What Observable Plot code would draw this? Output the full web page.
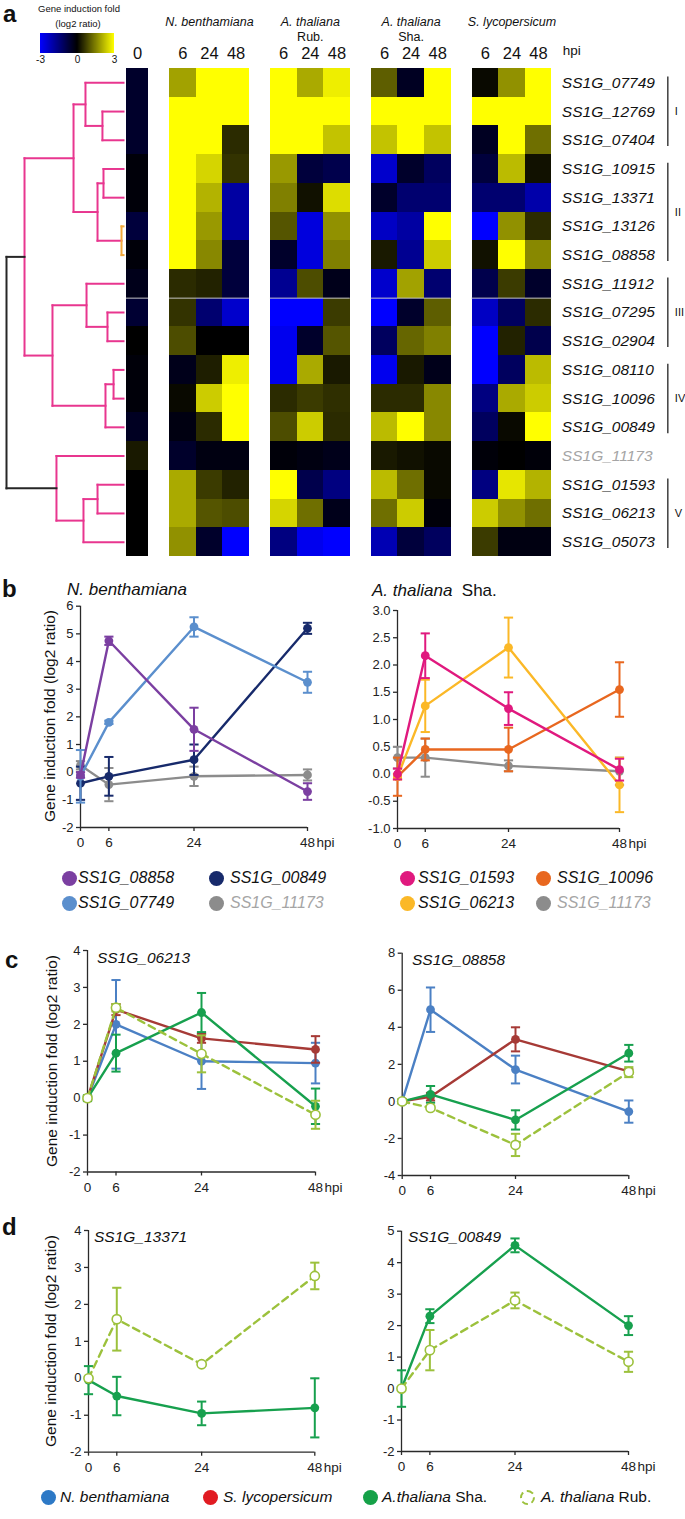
<!DOCTYPE html>
<html><head><meta charset="utf-8">
<script src="https://cdn.jsdelivr.net/npm/d3@7"></script>
<script src="https://cdn.jsdelivr.net/npm/@observablehq/plot@0.6"></script>
<style>
html,body{margin:0;padding:0;background:#fff;}
#page{position:relative;width:685px;height:1519px;overflow:hidden;font-family:"Liberation Sans",Arial,sans-serif;color:#111;}
.abs{position:absolute;}
.lbl{position:absolute;white-space:nowrap;line-height:1;}
</style></head><body><div id="page"></div>
<script>
// ===================== DATA =====================
// Panel a: heatmap
const heatGenes = ["SS1G_07749","SS1G_12769","SS1G_07404","SS1G_10915","SS1G_13371","SS1G_13126","SS1G_08858","SS1G_11912","SS1G_07295","SS1G_02904","SS1G_08110","SS1G_10096","SS1G_00849","SS1G_11173","SS1G_01593","SS1G_06213","SS1G_05073"];
const heatGroupNames = ["", "N. benthamiana", "A. thaliana", "A. thaliana", "S. lycopersicum"];
const heatGroupSub = ["", "", "Rub.", "Sha.", ""];
const heatGroupTimes = [[0], [6, 24, 48], [6, 24, 48], [6, 24, 48], [6, 24, 48]];
const heat0 = [-0.5,-0.5,-0.5,-0.1,-0.1,-0.7,-0.1,-0.3,-0.6,0,-0.1,-0.1,-0.4,0.3,0,0,0];
const heatNb = [[1.9,3,3],[3,3,3],[3,3,0.5],[3,2.5,0.6],[3,2.1,-1.9],[3,1.8,-1.9],[3,1.6,-0.7],[0.5,0.4,-0.7],[0.6,-1.3,-2.4],[0.9,0,0],[-0.3,0.35,2.8],[0.1,2.4,3],[-0.2,0.5,3],[-0.5,-0.2,-0.2],[2.0,0.7,0.4],[2.0,1.0,0.9],[1.7,-0.5,-3]];
const heatRub = [[3,2.0,2.8],[3,3,3],[3,3,2.3],[1.8,-0.7,-0.9],[1.5,0.2,2.6],[1.0,-2.6,1.7],[-0.5,-2.6,1.5],[-1.7,0.9,-0.3],[-3,-3,0.7],[-2.8,-0.5,1.0],[-2.8,2.0,0.3],[0.5,0.7,0.55],[0.9,2.4,0.5],[-0.1,-0.2,-0.3],[3,-0.9,-1.5],[2.5,1.3,-0.3],[-1.5,-2.8,-3]];
const heatSha = [[1.1,-0.4,3],[3,3,3],[2.3,3,2.3],[-2.4,-0.5,-1.1],[-0.5,-1.3,-1.3],[-2.3,-1.9,3],[0.3,-1.7,2.4],[-2.4,1.9,-1.3],[-3,-0.5,1.1],[-1.1,1.2,1.5],[-2.8,0.3,-0.3],[0.5,0.5,1.6],[2.2,3,1.6],[0.3,0.2,0.1],[2.2,1.3,0.1],[1.3,2.4,-0.1],[-2.1,-0.7,-1.1]];
const heatSl = [[0.1,1.7,3],[3,3,3],[-0.4,3,1.3],[-0.7,2.2,0.2],[-1.3,-1.3,-2.0],[-3,1.7,0.5],[0.2,3,1.6],[-0.9,0.7,-0.5],[-2.3,-1.1,0.5],[-3,0.4,-0.9],[-3,-1.1,2.2],[-1.5,2.0,2.4],[-1.1,0.1,3],[-0.1,0,-0.1],[-1.5,2.7,2.1],[2.4,1.7,1.3],[0.7,-0.2,-0.2]];
const colorTicks = [-3, 0, 3];
const clusterNames = ["I", "II", "III", "IV", "V"];
const clusterFirst = [0, 3, 7, 10, 14];
const clusterLast = [2, 6, 9, 12, 16];
// dendrogram merges: [node, child A, child B, height]
const dendroMerges = [
  ["n23", "SS1G_12769", "SS1G_07404", 0.18],
  ["nA", "SS1G_07749", "n23", 0.325],
  ["n45", "SS1G_10915", "SS1G_13371", 0.171],
  ["n67", "SS1G_13126", "SS1G_08858", 0.017],
  ["n4567", "n45", "n67", 0.222],
  ["nB", "nA", "n4567", 0.427],
  ["n910", "SS1G_07295", "SS1G_02904", 0.137],
  ["n8", "SS1G_11912", "n910", 0.316],
  ["n1112", "SS1G_08110", "SS1G_10096", 0.085],
  ["n13", "n1112", "SS1G_00849", 0.154],
  ["nD", "n8", "n13", 0.607],
  ["nC", "nB", "nD", 0.846],
  ["n1516", "SS1G_01593", "SS1G_06213", 0.222],
  ["n17", "n1516", "SS1G_05073", 0.342],
  ["nE", "SS1G_11173", "n17", 0.573],
  ["root", "nC", "nE", 1.0]
];

// Panels b-d
const hpi = [0, 6, 24, 48];
const bNbGenes = ["SS1G_11173", "SS1G_00849", "SS1G_07749", "SS1G_08858"];
const bNbMean = [[0.25,-0.45,-0.15,-0.1],[-0.4,-0.15,0.45,5.2],[-0.15,1.8,5.25,3.25],[-0.1,4.75,1.55,-0.7]];
const bNbErr  = [[0.15,0.6,0.35,0.2],[0.6,0.7,0.55,0.2],[0.95,0.06,0.35,0.38],[0.1,0.15,0.78,0.3]];
const bShaGenes = ["SS1G_11173", "SS1G_10096", "SS1G_06213", "SS1G_01593"];
const bShaMean = [[0.3,0.3,0.15,0.05],[-0.05,0.45,0.45,1.55],[-0.05,1.25,2.32,-0.2],[0,2.17,1.2,0.08]];
const bShaErr  = [[0.2,0.35,0.1,0.25],[0.35,0.2,0.4,0.5],[0.05,0.48,0.55,0.5],[0.1,0.41,0.3,0.2]];
const bNbLegend = ["SS1G_08858", "SS1G_00849", "SS1G_07749", "SS1G_11173"];
const bShaLegend = ["SS1G_01593", "SS1G_10096", "SS1G_06213", "SS1G_11173"];

const hosts = ["N. benthamiana", "S. lycopersicum", "A. thaliana Sha.", "A. thaliana Rub."];
const c06213Mean = [[0,2.0,1.0,0.95],[0,2.4,1.62,1.32],[0,1.22,2.32,-0.22],[0,2.45,1.2,-0.45]];
const c06213Err  = [[0.05,1.2,0.75,0.55],[0.05,0.15,0.12,0.36],[0.08,0.5,0.53,0.48],[0.05,0.1,0.5,0.38]];
const c08858Mean = [[0,4.95,1.72,-0.55],[0,0.25,3.35,1.62],[0,0.38,-1.0,2.6],[0,-0.35,-2.35,1.58]];
const c08858Err  = [[0.1,1.2,0.75,0.6],[0.1,0.2,0.65,0.12],[0.1,0.45,0.52,0.45],[0.1,0.12,0.6,0.27]];
const dHosts = ["A. thaliana Sha.", "A. thaliana Rub."];
const d13371Mean = [[-0.05,-0.48,-0.95,-0.8],[0,1.6,0.38,2.77]];
const d13371Err  = [[0.38,0.52,0.32,0.8],[0.05,0.85,0.05,0.36]];
const d00849Mean = [[0,2.3,4.55,2.0],[0,1.22,2.8,0.85]];
const d00849Err  = [[0.58,0.22,0.22,0.3],[0.05,0.64,0.25,0.32]];

// ===================== STYLE =====================
const FONT = '"Liberation Sans", Arial, sans-serif';
const AX = "#2a2a2a";
const geneColor = {
  "SS1G_08858": "#7b3fa1", "SS1G_07749": "#5b8fcd", "SS1G_00849": "#172a6b", "SS1G_11173": "#8c8c8c",
  "SS1G_01593": "#e0197e", "SS1G_06213": "#fbb827", "SS1G_10096": "#e8671f"
};
const hostColor = {"N. benthamiana": "#4b80c4", "S. lycopersicum": "#a63a36", "A. thaliana Sha.": "#17a04e", "A. thaliana Rub.": "#9cc13c"};
const hostLegendColor = {"N. benthamiana": "#2d79c6", "S. lycopersicum": "#e11b22", "A. thaliana Sha.": "#15a148", "A. thaliana Rub.": "#9cc13c"};

const page = document.getElementById("page");
function put(node, left, top) {
  const d = document.createElement("div"); d.className = "abs";
  d.style.left = left + "px"; d.style.top = top + "px";
  d.appendChild(node); page.appendChild(d); return d;
}
function label(html, x, cy, style = {}, anchor = "start") {
  const d = document.createElement("div"); d.className = "lbl";
  d.style.left = x + "px"; d.style.top = cy + "px";
  d.style.transform = anchor === "middle" ? "translate(-50%,-50%)" : "translateY(-50%)";
  d.innerHTML = html; Object.assign(d.style, style); page.appendChild(d); return d;
}
function yTitle(text, cx, cy) {
  const d = document.createElement("div"); d.className = "lbl"; d.textContent = text;
  Object.assign(d.style, {left: cx + "px", top: cy + "px", transform: "translate(-50%,-50%) rotate(-90deg)", fontSize: "15.5px"});
  page.appendChild(d);
}
function dotItem(cx, cy, color, html, tx, opts = {}) {
  const r = opts.r || 7.5;
  const c = document.createElement("div"); c.className = "abs";
  Object.assign(c.style, {left: (cx - r) + "px", top: (cy - r) + "px", width: 2 * r + "px", height: 2 * r + "px", borderRadius: "50%", boxSizing: "border-box"});
  if (opts.dashed) c.style.border = `2px dashed ${color}`; else c.style.background = color;
  page.appendChild(c);
  label(html, tx, cy, {fontSize: (opts.fs || 16) + "px", color: opts.textColor || "#111"});
}
const plotStyle = {fontFamily: FONT, background: "transparent", overflow: "visible", color: AX};

// ===================== PANEL A =====================
const UNIT_PX = 26.6, HEAT_LEFT = 126;
const colUnit = [0.83, 1, 1, 1, 1];
const GAP = 0.79;
const groupStart = []; let acc = 0;
heatGroupTimes.forEach((t, g) => { groupStart.push(acc); acc += t.length * colUnit[g] + GAP; });
const xEnd = acc - GAP;
const groupEnd = g => groupStart[g] + heatGroupTimes[g].length * colUnit[g];
const groupCenter = g => (groupStart[g] + groupEnd(g)) / 2;
const heatMatrices = [heat0.map(v => [v]), heatNb, heatRub, heatSha, heatSl];
const cells = [];
heatGenes.forEach((gene, i) => heatGroupTimes.forEach((times, g) => times.forEach((t, j) => {
  cells.push({gene, i, x1: groupStart[g] + j * colUnit[g], x2: groupStart[g] + (j + 1) * colUnit[g], v: heatMatrices[g][i][j]});
})));
const tickPos = [], tickText = new Map();
heatGroupTimes.forEach((times, g) => times.forEach((t, j) => {
  const c = groupStart[g] + (j + 0.5) * colUnit[g]; tickPos.push(c); tickText.set(c, String(t));
}));
const clusters = clusterNames.map((name, k) => ({name, first: clusterFirst[k], last: clusterLast[k]}));
const geneRows = heatGenes.map((gene, i) => ({gene, i}));
const groupIdx = heatGroupTimes.map((_, g) => g);
const colorScale = {type: "linear", domain: [-3, 0, 3], range: ["#0000ff", "#000000", "#ffff00"], interpolate: "rgb", clamp: true};

const heat = Plot.plot({
  width: 685, height: 560,
  marginLeft: HEAT_LEFT, marginRight: 685 - HEAT_LEFT - xEnd * UNIT_PX, marginTop: 68, marginBottom: 4,
  x: {domain: [0, xEnd]},
  y: {domain: [0, 17], reverse: true, axis: null},
  color: colorScale,
  style: plotStyle,
  marks: [
    Plot.rect(cells, {x1: "x1", x2: "x2", y1: "i", y2: d => d.i + 1, fill: "v", shapeRendering: "crispEdges"}),
    Plot.ruleY(groupIdx, {y: 8, x1: g => groupStart[g], x2: g => groupEnd(g), stroke: "#c4c4c4", strokeWidth: 1}),
    Plot.axisX({anchor: "top", ticks: tickPos, tickFormat: d => tickText.get(d), tickSize: 0, tickPadding: 10, fontSize: 16.5, fill: "#111", label: null}),
    Plot.text(["hpi"], {x: xEnd, frameAnchor: "top", dx: 11, dy: -14, lineAnchor: "bottom", textAnchor: "start", fontSize: 13.5, fill: "#111"}),
    Plot.text([1, 2, 3, 4], {x: g => groupCenter(g), text: g => heatGroupNames[g], frameAnchor: "top", dy: -51, fontStyle: "italic", fontSize: 12.5, fill: "#111"}),
    Plot.text([2, 3], {x: g => groupCenter(g), text: g => heatGroupSub[g], frameAnchor: "top", dy: -36, fontSize: 12.5, fill: "#111"}),
    Plot.text(geneRows.filter(d => d.gene !== "SS1G_11173"), {x: xEnd, y: d => d.i + 0.5, text: "gene", dx: 10, textAnchor: "start", fontStyle: "italic", fontSize: 15.5, fill: "#111"}),
    Plot.text(geneRows.filter(d => d.gene === "SS1G_11173"), {x: xEnd, y: d => d.i + 0.5, text: "gene", dx: 10, textAnchor: "start", fontStyle: "italic", fontSize: 15.5, fill: "#a5a5a5"}),
    Plot.ruleX(clusters, {x: xEnd, dx: 116, y1: d => d.first + 0.3, y2: d => d.last + 0.72, stroke: "#222", strokeWidth: 1.3}),
    Plot.text(clusters, {x: xEnd, dx: 123, y: d => (d.first + d.last + 1) / 2, text: "name", textAnchor: "start", fontSize: 11, fill: "#111"})
  ]
});

// dendrogram
const nodeY = new Map(), nodeH = new Map();
heatGenes.forEach((g, i) => { nodeY.set(g, i + 0.5); nodeH.set(g, 0); });
const segs = [];
dendroMerges.forEach(([id, a, b, h]) => {
  const ya = nodeY.get(a), yb = nodeY.get(b);
  nodeY.set(id, (ya + yb) / 2); nodeH.set(id, h);
  const kind = id === "root" ? "root" : id === "n67" ? "tight" : "main";
  segs.push({x1: h, y1: ya, x2: h, y2: yb, kind});
  segs.push({x1: h, y1: ya, x2: nodeH.get(a), y2: ya, kind});
  segs.push({x1: h, y1: yb, x2: nodeH.get(b), y2: yb, kind});
});
const dendroColor = {main: "#e8368f", tight: "#f2a93b", root: "#262626"};
const dendro = Plot.plot({
  width: 130, height: 560, marginLeft: 6, marginRight: 7, marginTop: 68, marginBottom: 4,
  x: {domain: [0, 1], reverse: true, axis: null},
  y: {domain: [0, 17], reverse: true, axis: null},
  style: plotStyle,
  marks: ["main", "tight", "root"].map(k => Plot.link(segs.filter(s => s.kind === k), {x1: "x1", y1: "y1", x2: "x2", y2: "y2", stroke: dendroColor[k], strokeWidth: 2, strokeLinecap: "square"}))
});
put(dendro, 0, 0);
put(heat, 0, 0);

const legendBar = Plot.legend({
  color: colorScale, width: 86, height: 34, marginTop: 0, marginBottom: 14, marginLeft: 6, marginRight: 6,
  tickSize: 0, ticks: colorTicks, tickFormat: d => String(d), label: null,
  style: {fontFamily: FONT, fontSize: "10px", background: "transparent", color: "#111"}
});
legendBar.querySelectorAll(".tick line").forEach(l => l.remove());
put(legendBar, 34, 33);
label("Gene induction fold", 79, 9, {fontSize: "9.5px"}, "middle");
label("(log2 ratio)", 78, 24, {fontSize: "9.5px"}, "middle");

// ===================== LINE CHARTS =====================
const capSymbol = {draw(ctx, size) { const r = Math.sqrt(size / Math.PI); ctx.moveTo(-r, 0); ctx.lineTo(r, 0); }};
function lineChart(cfg) {
  const {left, top, width, height, mL, mR, mT, mB, yDomain, yTicks, yFormat, series} = cfg;
  const marks = [
    Plot.ruleX([0], {stroke: AX, strokeWidth: 1.3}),
    Plot.ruleY([yDomain[0]], {stroke: AX, strokeWidth: 1.3}),
    Plot.axisX({ticks: hpi, tickFormat: d => String(d), tickSize: 4, tickPadding: 6, fontSize: 13.5, stroke: AX, strokeWidth: 1.3, fill: "#222", label: null}),
    Plot.text(["hpi"], {x: 48, frameAnchor: "bottom", dx: 9, dy: 10, textAnchor: "start", lineAnchor: "top", fontSize: 13.5, fill: "#222"}),
    Plot.axisY({ticks: yTicks, tickFormat: yFormat, tickSize: 4, tickPadding: 3, fontSize: 13, label: null, stroke: AX, strokeWidth: 1.3, fill: "#222"})
  ];
  for (const s of series) {
    const pts = hpi.map((x, k) => ({x, y: s.mean[k], e: s.err[k]}));
    marks.push(Plot.ruleX(pts, {x: "x", y1: d => d.y - d.e, y2: d => d.y + d.e, stroke: s.color, strokeWidth: 2}));
    marks.push(Plot.dot(pts, {x: "x", y: d => d.y + d.e, symbol: capSymbol, r: 4.6, fill: "none", stroke: s.color, strokeWidth: 2}));
    marks.push(Plot.dot(pts, {x: "x", y: d => d.y - d.e, symbol: capSymbol, r: 4.6, fill: "none", stroke: s.color, strokeWidth: 2}));
    marks.push(Plot.line(pts, {x: "x", y: "y", stroke: s.color, strokeWidth: 2.4, strokeDasharray: s.dashed ? "7,5" : null}));
    if (s.open) marks.push(Plot.dot(pts, {x: "x", y: "y", r: 4.6, fill: "white", stroke: s.color, strokeWidth: 1.6}));
    else marks.push(Plot.dot(pts, {x: "x", y: "y", r: 4.4, fill: s.color, stroke: "none"}));
  }
  const p = Plot.plot({
    width, height, marginLeft: mL, marginRight: mR, marginTop: mT, marginBottom: mB,
    x: {domain: [0, 48]}, y: {domain: yDomain},
    style: plotStyle, marks
  });
  put(p, left, top);
}
const intFmt = d => String(d);
const geneSeries = (genes, mean, err) => genes.map((g, k) => ({color: geneColor[g], mean: mean[k], err: err[k]}));
const hostSeries = (hs, mean, err) => hs.map((h, k) => ({color: hostColor[h], mean: mean[k], err: err[k], dashed: h === "A. thaliana Rub.", open: h === "A. thaliana Rub."}));

// Panel b
lineChart({left: 0, top: 570, width: 345, height: 290, mL: 80, mR: 38, mT: 35.7, mB: 33,
  yDomain: [-2, 6], yTicks: [-2, -1, 0, 1, 2, 3, 4, 5, 6], yFormat: intFmt, series: geneSeries(bNbGenes, bNbMean, bNbErr)});
lineChart({left: 345, top: 570, width: 340, height: 290, mL: 52, mR: 66, mT: 40, mB: 32,
  yDomain: [-1, 3], yTicks: [-1, -0.5, 0, 0.5, 1, 1.5, 2, 2.5, 3], yFormat: d => d.toFixed(1), series: geneSeries(bShaGenes, bShaMean, bShaErr)});
// Panel c
lineChart({left: 0, top: 920, width: 345, height: 290, mL: 87, mR: 30, mT: 30, mB: 38.5,
  yDomain: [-2, 4], yTicks: [-2, -1, 0, 1, 2, 3, 4], yFormat: intFmt, series: hostSeries(hosts, c06213Mean, c06213Err)});
lineChart({left: 345, top: 920, width: 340, height: 290, mL: 56.7, mR: 56.7, mT: 32.7, mB: 35,
  yDomain: [-4, 8], yTicks: [-4, -2, 0, 2, 4, 6, 8], yFormat: intFmt, series: hostSeries(hosts, c08858Mean, c08858Err)});
// Panel d
lineChart({left: 0, top: 1200, width: 345, height: 290, mL: 88, mR: 30.7, mT: 30, mB: 38.3,
  yDomain: [-2, 4], yTicks: [-2, -1, 0, 1, 2, 3, 4], yFormat: intFmt, series: hostSeries(dHosts, d13371Mean, d13371Err)});
lineChart({left: 345, top: 1200, width: 340, height: 290, mL: 56, mR: 57, mT: 30.7, mB: 39,
  yDomain: [-2, 5], yTicks: [-2, -1, 0, 1, 2, 3, 4, 5], yFormat: intFmt, series: hostSeries(dHosts, d00849Mean, d00849Err)});

// titles / axis labels
const yLab = "Gene induction fold (log2 ratio)";
yTitle(yLab, 50, 716); yTitle(yLab, 52, 1061); yTitle(yLab, 51, 1341);
label("<i>N. benthamiana</i>", 67, 589, {fontSize: "17px"});
label("<i>A. thaliana</i>&nbsp; Sha.", 372, 590, {fontSize: "17px"});
label("<i>SS1G_06213</i>", 97, 958, {fontSize: "15.5px"});
label("<i>SS1G_08858</i>", 412, 960, {fontSize: "15.5px"});
label("<i>SS1G_13371</i>", 94, 1237, {fontSize: "15.5px"});
label("<i>SS1G_00849</i>", 408, 1237, {fontSize: "15.5px"});
// panel letters
const letterStyle = {fontSize: "24px", fontWeight: "bold", fontFamily: FONT, lineHeight: "1"};
label("a", 3, 14, letterStyle); label("b", 2, 589, letterStyle); label("c", 5, 960, letterStyle); label("d", 2, 1227, letterStyle);

// panel b legends
const legX = [[69, 78], [216, 230]], legY = [878, 903];
bNbLegend.forEach((g, k) => {
  const col = k % 2, row = Math.floor(k / 2);
  dotItem(legX[col][0], legY[row], geneColor[g], `<i>${g}</i>`, legX[col][1], {textColor: g === "SS1G_11173" ? "#a5a5a5" : "#111"});
});
const legX2 = [[407, 418], [543, 557]];
bShaLegend.forEach((g, k) => {
  const col = k % 2, row = Math.floor(k / 2);
  dotItem(legX2[col][0], legY[row], geneColor[g], `<i>${g}</i>`, legX2[col][1], {textColor: g === "SS1G_11173" ? "#a5a5a5" : "#111"});
});
// bottom legend
const hostLegendHtml = ["<i>N. benthamiana</i>", "<i>S. lycopersicum</i>", "<i>A.thaliana</i> Sha.", "<i>A. thaliana</i> Rub."];
const hostLegX = [[48, 60], [210, 223], [370, 382], [527, 541]];
hosts.forEach((h, k) => dotItem(hostLegX[k][0], 1497, hostLegendColor[h], hostLegendHtml[k], hostLegX[k][1], {fs: 15.5, dashed: h === "A. thaliana Rub."}));
</script></body></html>
